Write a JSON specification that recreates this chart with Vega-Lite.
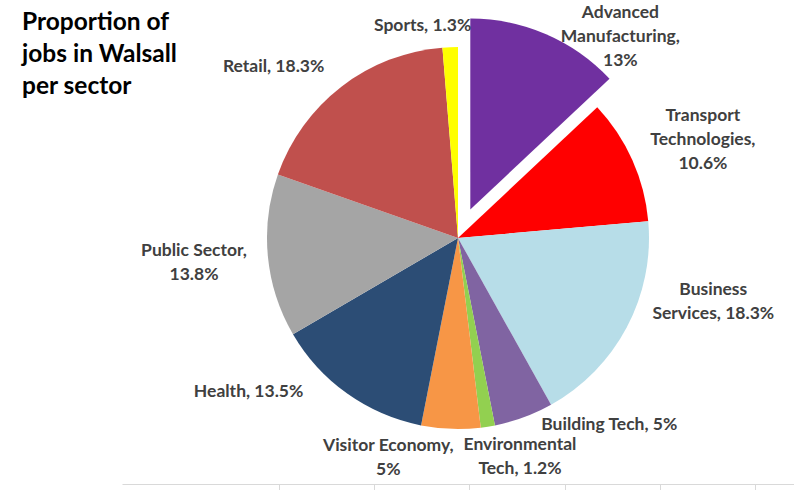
{
  "$schema": "https://vega.github.io/schema/vega-lite/v6.json",
  "autosize": {"type": "none"},
  "width": 672,
  "height": 476,
  "padding": {"left": 122, "top": 0, "right": 0, "bottom": 14},
  "background": "white",
  "config": {"view": {"stroke": null}, "text": {"font": "Lato"}},
  "title": {
    "text": ["Proportion of", "jobs in Walsall", "per sector"],
    "anchor": "start",
    "frame": "group",
    "dx": -100,
    "dy": 156,
    "offset": 0,
    "font": "Lato",
    "fontSize": 24.5,
    "fontWeight": "bold",
    "color": "#000000",
    "lineHeight": 32,
    "baseline": "top"
  },
  "data": {
    "values": [
      {"rank": 1, "sector": "Advanced Manufacturing", "value": 13, "label": "Advanced\nManufacturing,\n13%"},
      {"rank": 2, "sector": "Transport Technologies", "value": 10.6, "label": "Transport\nTechnologies,\n10.6%"},
      {"rank": 3, "sector": "Business Services", "value": 18.3, "label": "Business\nServices, 18.3%"},
      {"rank": 4, "sector": "Building Tech", "value": 5, "label": "Building Tech, 5%"},
      {"rank": 5, "sector": "Environmental Tech", "value": 1.2, "label": "Environmental\nTech, 1.2%"},
      {"rank": 6, "sector": "Visitor Economy", "value": 5, "label": "Visitor Economy,\n5%"},
      {"rank": 7, "sector": "Health", "value": 13.5, "label": "Health, 13.5%"},
      {"rank": 8, "sector": "Public Sector", "value": 13.8, "label": "Public Sector,\n13.8%"},
      {"rank": 9, "sector": "Retail", "value": 18.3, "label": "Retail, 18.3%"},
      {"rank": 10, "sector": "Sports", "value": 1.3, "label": "Sports, 1.3%"}
    ]
  },
  "layer": [
    {
      "encoding": {
        "theta": {"field": "value", "type": "quantitative", "stack": true},
        "order": {"field": "rank", "type": "quantitative"}
      },
      "layer": [
        {
          "mark": {"type": "arc", "radius": 191},
          "encoding": {
            "color": {
              "field": "sector", "type": "nominal", "legend": null,
              "scale": {
                "domain": ["Advanced Manufacturing", "Transport Technologies", "Business Services", "Building Tech", "Environmental Tech", "Visitor Economy", "Health", "Public Sector", "Retail", "Sports"],
                "range": ["#7030A0", "#FF0000", "#B7DDE8", "#8064A2", "#92D050", "#F79646", "#2C4D75", "#A5A5A5", "#C0504D", "#FFFF00"]
              }
            },
            "opacity": {"condition": {"test": "datum.sector === 'Advanced Manufacturing'", "value": 0}, "value": 1}
          }
        },
        {
          "mark": {"type": "arc", "radius": 191, "xOffset": 12.3, "yOffset": -28.5},
          "encoding": {
            "color": {"field": "sector", "type": "nominal", "legend": null},
            "opacity": {"condition": {"test": "datum.sector === 'Advanced Manufacturing'", "value": 1}, "value": 0}
          }
        },
        {
          "mark": {"type": "text", "radius": 230, "dx": 71, "dy": -14, "fontSize": 17.5, "fontWeight": "bold", "lineBreak": "\n", "lineHeight": 24, "align": "center", "baseline": "middle"},
          "encoding": {"color": {"value": "#404040"}, "text": {"condition": {"test": "datum.sector === 'Advanced Manufacturing'", "field": "label"}, "value": ""}}
        },
        {
          "mark": {"type": "text", "radius": 230, "dx": 35, "dy": -28, "fontSize": 17.5, "fontWeight": "bold", "lineBreak": "\n", "lineHeight": 24, "align": "center", "baseline": "middle"},
          "encoding": {"color": {"value": "#404040"}, "text": {"condition": {"test": "datum.sector === 'Transport Technologies'", "field": "label"}, "value": ""}}
        },
        {
          "mark": {"type": "text", "radius": 230, "dx": 52, "dy": -56, "fontSize": 17.5, "fontWeight": "bold", "lineBreak": "\n", "lineHeight": 24, "align": "center", "baseline": "middle"},
          "encoding": {"color": {"value": "#404040"}, "text": {"condition": {"test": "datum.sector === 'Business Services'", "field": "label"}, "value": ""}}
        },
        {
          "mark": {"type": "text", "radius": 230, "dx": 72, "dy": -29, "fontSize": 17.5, "fontWeight": "bold", "lineBreak": "\n", "lineHeight": 24, "align": "center", "baseline": "middle"},
          "encoding": {"color": {"value": "#404040"}, "text": {"condition": {"test": "datum.sector === 'Building Tech'", "field": "label"}, "value": ""}}
        },
        {
          "mark": {"type": "text", "radius": 230, "dx": 26, "dy": -20, "fontSize": 17.5, "fontWeight": "bold", "lineBreak": "\n", "lineHeight": 24, "align": "center", "baseline": "middle"},
          "encoding": {"color": {"value": "#404040"}, "text": {"condition": {"test": "datum.sector === 'Environmental Tech'", "field": "label"}, "value": ""}}
        },
        {
          "mark": {"type": "text", "radius": 230, "dx": -61, "dy": -22, "fontSize": 17.5, "fontWeight": "bold", "lineBreak": "\n", "lineHeight": 24, "align": "center", "baseline": "middle"},
          "encoding": {"color": {"value": "#404040"}, "text": {"condition": {"test": "datum.sector === 'Visitor Economy'", "field": "label"}, "value": ""}}
        },
        {
          "mark": {"type": "text", "radius": 230, "dx": -76, "dy": -33, "fontSize": 17.5, "fontWeight": "bold", "lineBreak": "\n", "lineHeight": 24, "align": "center", "baseline": "middle"},
          "encoding": {"color": {"value": "#404040"}, "text": {"condition": {"test": "datum.sector === 'Health'", "field": "label"}, "value": ""}}
        },
        {
          "mark": {"type": "text", "radius": 230, "dx": -35, "dy": -9, "fontSize": 17.5, "fontWeight": "bold", "lineBreak": "\n", "lineHeight": 24, "align": "center", "baseline": "middle"},
          "encoding": {"color": {"value": "#404040"}, "text": {"condition": {"test": "datum.sector === 'Public Sector'", "field": "label"}, "value": ""}}
        },
        {
          "mark": {"type": "text", "radius": 230, "dx": -44, "dy": 11, "fontSize": 17.5, "fontWeight": "bold", "lineBreak": "\n", "lineHeight": 24, "align": "center", "baseline": "middle"},
          "encoding": {"color": {"value": "#404040"}, "text": {"condition": {"test": "datum.sector === 'Retail'", "field": "label"}, "value": ""}}
        },
        {
          "mark": {"type": "text", "radius": 230, "dx": -26, "dy": 18, "fontSize": 17.5, "fontWeight": "bold", "lineBreak": "\n", "lineHeight": 24, "align": "center", "baseline": "middle"},
          "encoding": {"color": {"value": "#404040"}, "text": {"condition": {"test": "datum.sector === 'Sports'", "field": "label"}, "value": ""}}
        }
      ]
    },
    {
      "mark": {"type": "point", "opacity": 0},
      "encoding": {
        "x": {
          "datum": 1, "type": "quantitative",
          "scale": {"domain": [-0.649, 6.41], "nice": false, "zero": false},
          "axis": {"values": [1, 2, 3, 4, 5, 6], "labels": false, "title": null, "grid": false, "domainColor": "#D9D9D9", "tickColor": "#D9D9D9", "tickSize": 6, "offset": 8, "domainWidth": 1, "tickWidth": 1}
        }
      }
    }
  ]
}
